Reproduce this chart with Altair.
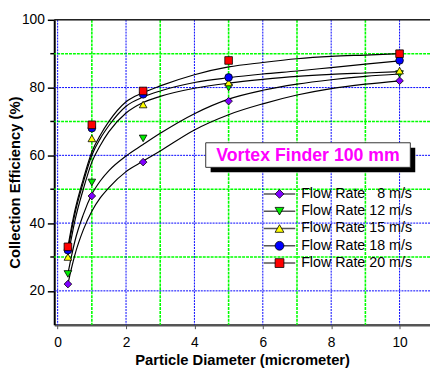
import altair as alt
import pandas as pd

# ---------------- data ----------------
series = ["Flow Rate\u00a0\u00a0\u00a08 m/s", "Flow Rate 12 m/s", "Flow Rate 15 m/s",
          "Flow Rate 18 m/s", "Flow Rate 20 m/s"]
shapes = ["diamond", "triangle-down", "triangle-up", "circle", "square"]
fills = ["#8000ff", "#00ee00", "#ffff00", "#0000ff", "#ff0000"]

particle_x = [0.3, 1, 2.5, 5, 10]
eff_8 = [22, 48, 58, 76, 82]
eff_12 = [25, 52, 65, 80, 84]
eff_15 = [30, 65, 75, 81.5, 85]
eff_18 = [32, 68, 78, 83, 88]
eff_20 = [33, 69, 79, 88, 90]

curve_x = [0.3, 0.4, 0.5, 0.75, 1, 1.25, 1.5, 2, 2.5, 3, 4, 5, 6, 7, 8, 9, 10]
curve_8 = [22, 26.5, 30.5, 38, 43.5, 47.5, 50.5, 55.2, 58.3, 61.3, 67.5, 72, 75.2, 77.8, 79.7, 81, 82]
curve_12 = [25, 30, 34.5, 42.5, 48.5, 52.5, 55.5, 59.8, 63.2, 66.5, 72.3, 76.6, 79.2, 81, 82.3, 83.3, 84]
curve_15 = [30.5, 35.5, 40.5, 50, 58, 63, 67, 72.5, 75.6, 77.4, 79.8, 81.3, 82.4, 83.3, 83.9, 84.3, 84.7]
curve_18 = [32, 37.5, 42.5, 52, 60, 65, 68.8, 74.5, 77.2, 79, 81.5, 82.9, 84, 84.9, 85.9, 86.9, 87.9]
curve_20 = [33, 38.5, 43.5, 53, 61, 66, 70, 75.8, 78.5, 80.5, 83.8, 86.1, 87.4, 88.5, 89.2, 89.6, 90]

x_major = [0, 2, 4, 6, 8, 10]
x_minor = [1, 3, 5, 7, 9]
y_major = [20, 40, 60, 80]
y_minor = [30, 50, 70, 90]
y_labels = [20, 40, 60, 80, 100]

annotation = "Vortex Finder 100 mm"
x_title = "Particle Diameter (micrometer)"
y_title = "Collection Efficiency (%)"

# ---------------- tables ----------------
eff_all = [eff_8, eff_12, eff_15, eff_18, eff_20]
curve_all = [curve_8, curve_12, curve_15, curve_18, curve_20]
pts = pd.DataFrame([{"s": s, "x": x, "y": y}
                    for s, ys in zip(series, eff_all) for x, y in zip(particle_x, ys)])
crv = pd.DataFrame([{"s": s, "x": x, "y": y}
                    for s, ys in zip(series, curve_all) for x, y in zip(curve_x, ys)])
leg = pd.DataFrame({"s": series, "i": list(range(len(series)))})

W, H = 382, 310
xs = alt.Scale(domain=[-0.1, 10.89], nice=False, zero=False)
ys = alt.Scale(domain=[10, 100], nice=False, zero=False)
shape_s = alt.Scale(domain=series, range=shapes)
fill_s = alt.Scale(domain=series, range=fills)

one = pd.DataFrame({"a": [0]})

grid_xmin = alt.Chart(pd.DataFrame({"x": x_minor})).mark_rule(
    color="#00ff00", strokeWidth=1.6, strokeDash=[3, 1]).encode(x=alt.X("x:Q", scale=xs))
grid_ymin = alt.Chart(pd.DataFrame({"y": y_minor})).mark_rule(
    color="#00ff00", strokeWidth=1.6, strokeDash=[3, 1]).encode(y=alt.Y("y:Q", scale=ys))
grid_xmaj = alt.Chart(pd.DataFrame({"x": x_major})).mark_rule(
    color="#0000ff", strokeWidth=1, strokeDash=[2, 1]).encode(x=alt.X("x:Q", scale=xs))
grid_ymaj = alt.Chart(pd.DataFrame({"y": y_major})).mark_rule(
    color="#0000ff", strokeWidth=1, strokeDash=[2, 1]).encode(y=alt.Y("y:Q", scale=ys))
minor_ticks = alt.Chart(pd.DataFrame({"y": y_minor})).mark_rule(
    color="black", strokeWidth=1.5).encode(
    y=alt.Y("y:Q", scale=ys), x=alt.value(-4), x2=alt.value(0))
top_border = alt.Chart(one).mark_rule(color="#222", strokeWidth=1.5).encode(
    x=alt.value(0), x2=alt.value(W), y=alt.value(0))

curves = alt.Chart(crv).mark_line(color="black", strokeWidth=1.2, interpolate="monotone").encode(
    x=alt.X("x:Q", scale=xs,
            axis=alt.Axis(values=x_major, title=x_title, grid=False, domainColor="#555",
                          domainWidth=2.5, tickColor="#555", tickSize=4, labelPadding=7,
                          labelFontSize=14, labelFont="Liberation Sans", labelColor="black",
                          titleFont="Liberation Sans", titleFontSize=15, titleFontWeight="bold",
                          titleColor="black", titlePadding=3)),
    y=alt.Y("y:Q", scale=ys,
            axis=alt.Axis(values=y_labels, title=y_title, grid=False, domainColor="black",
                          domainWidth=2, tickColor="black", tickSize=7, tickWidth=1.5,
                          labelPadding=3, labelFontSize=14, labelFont="Liberation Sans",
                          labelColor="black", titleFont="Liberation Sans", titleFontSize=15,
                          titleFontWeight="bold", titleColor="black", titleX=-40, titleY=165,
                          titleAngle=-90, titleAlign="center", titleBaseline="middle")),
    detail="s:N")

points = alt.Chart(pts).mark_point(filled=True, size=60, stroke="black", strokeWidth=0.8,
                                   opacity=1).encode(
    x=alt.X("x:Q", scale=xs), y=alt.Y("y:Q", scale=ys),
    shape=alt.Shape("s:N", scale=shape_s, legend=None),
    fill=alt.Fill("s:N", scale=fill_s, legend=None))

# annotation box
shadow = alt.Chart(one).mark_rect(color="black").encode(
    x=alt.value(159), x2=alt.value(367), y=alt.value(130), y2=alt.value(155))
box = alt.Chart(one).mark_rect(fill="white", stroke="#333", strokeWidth=1).encode(
    x=alt.value(154), x2=alt.value(362), y=alt.value(125), y2=alt.value(150))
box_text = alt.Chart(one).mark_text(color="#ff00ff", fontSize=18, fontWeight="bold",
                                    font="Liberation Sans").encode(
    x=alt.value(258), y=alt.value(138.5), text=alt.value(annotation))

main = alt.layer(grid_xmin, grid_ymin, grid_xmaj, grid_ymaj, minor_ticks, top_border,
                 curves, points, shadow, box, box_text)

# manual legend (rows placed by an index scale)
ly = alt.Scale(domain=[0, len(series) - 1], range=[177, 247.3], nice=False, zero=False)
leg_line = alt.Chart(leg).mark_rule(color="#555", strokeWidth=1.5).encode(
    y=alt.Y("i:Q", scale=ly, axis=None), x=alt.value(213), x2=alt.value(245))
leg_pt = alt.Chart(leg).mark_point(filled=True, size=80, stroke="black", strokeWidth=0.8,
                                   opacity=1).encode(
    y=alt.Y("i:Q", scale=ly, axis=None), x=alt.value(229),
    shape=alt.Shape("s:N", scale=shape_s, legend=None),
    fill=alt.Fill("s:N", scale=fill_s, legend=None))
leg_txt = alt.Chart(leg).mark_text(align="left", baseline="middle", fontSize=14.5,
                                   font="Liberation Sans", color="black").encode(
    y=alt.Y("i:Q", scale=ly, axis=None), x=alt.value(251), text="s:N")
legend = alt.layer(leg_line, leg_pt, leg_txt)

chart = alt.layer(main, legend).resolve_scale(y="independent").properties(
    width=W, height=H,
    autosize=alt.AutoSizeParams(type="none"),
    padding={"left": 47, "top": 9, "right": 0, "bottom": 43},
).configure_view(stroke=None).configure(background="white")

chart.save("out.html", embed_options={"renderer": "svg", "actions": False})
